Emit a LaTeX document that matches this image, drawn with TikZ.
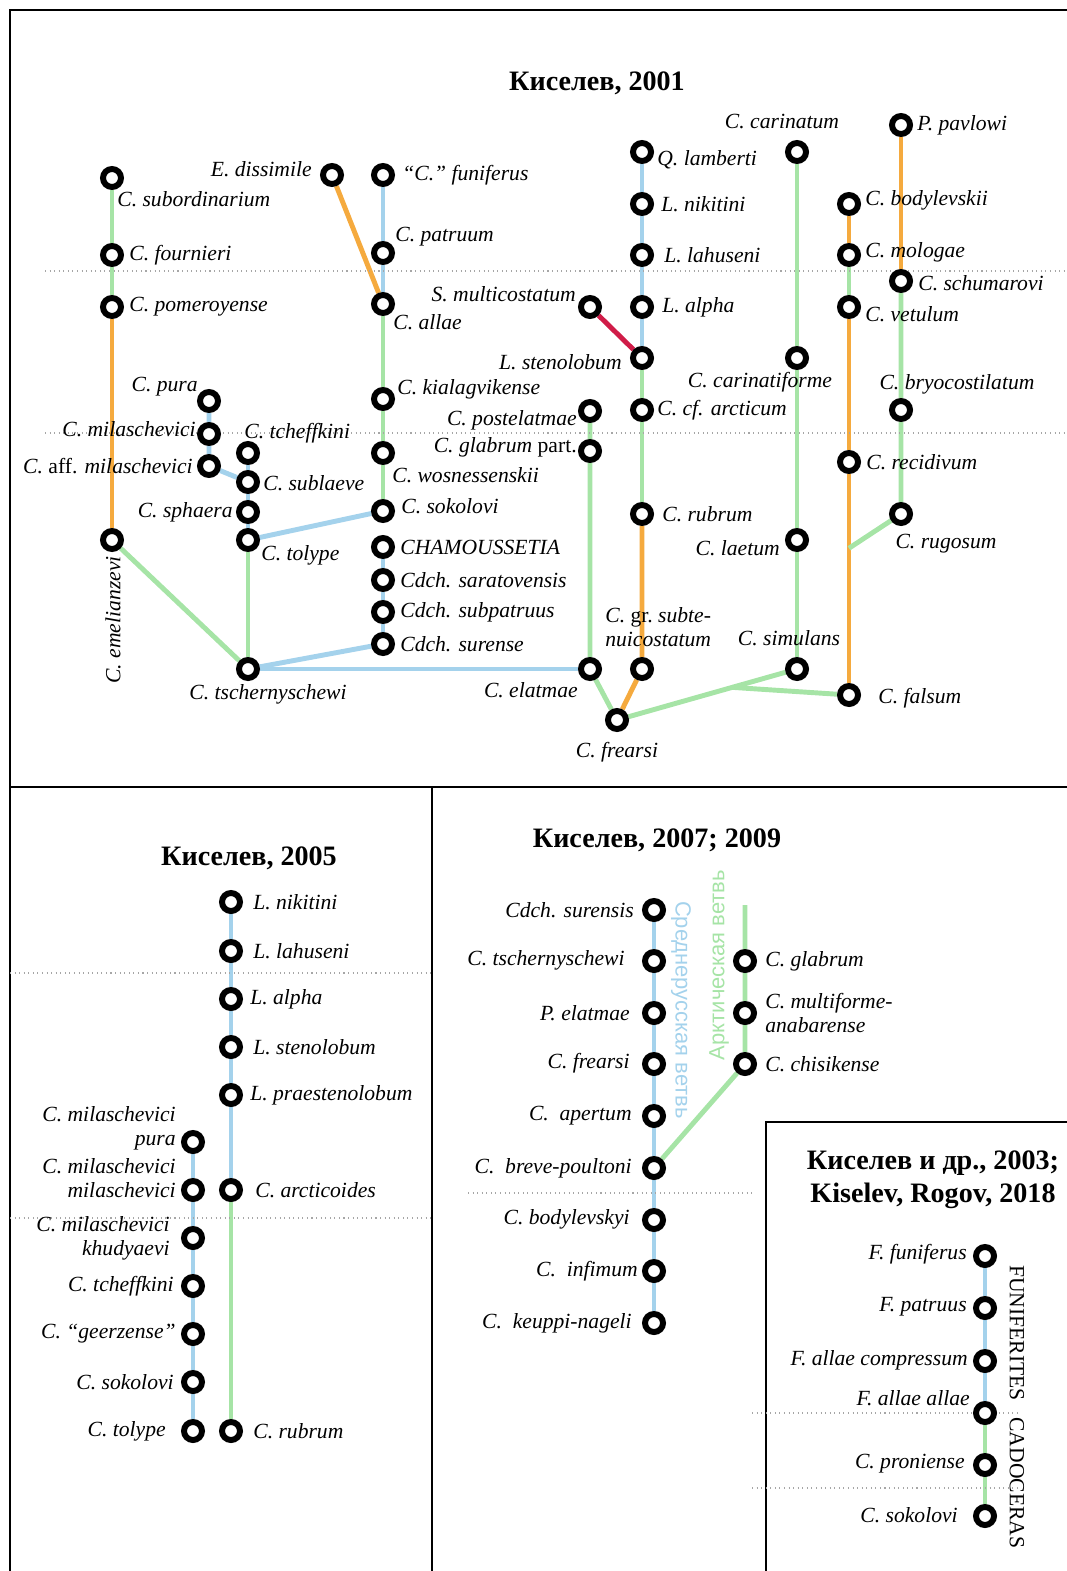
\documentclass[tikz,border=0pt]{standalone}
\usepackage{fontspec}
\setmainfont{Liberation Serif}
\newfontfamily\arialfont{Liberation Sans}
\usetikzlibrary{calc,backgrounds}

\definecolor{lgreen}{RGB}{166,228,166}
\definecolor{lblue}{RGB}{164,210,236}
\definecolor{lorange}{RGB}{245,170,62}
\definecolor{lred}{RGB}{208,28,72}

\tikzstyle{taxon}=[circle, draw=black, fill=white, line width=3.4pt, minimum size=0.36cm, inner sep=0pt]
\tikzstyle{lab}=[font=\fontsize{12.3}{13.5}\selectfont\itshape, inner sep=0pt]
\tikzstyle{ttl}=[font=\fontsize{16}{19}\selectfont\bfseries, align=center, inner sep=0pt]
\tikzstyle{gline}=[line width=2.8pt, lgreen]
\tikzstyle{bline}=[line width=2.8pt, lblue]
\tikzstyle{oline}=[line width=2.8pt, lorange]
\tikzstyle{rline}=[line width=2.8pt, lred]
\tikzstyle{level}=[dotted, gray!70, line width=0.6pt]
\tikzstyle{frame}=[line width=1.1pt]

\begin{document}
\begin{tikzpicture}[x=0.02cm, y=-0.02cm]
    \useasboundingbox (0,0) rectangle (1067,1571);

    % frames
    \draw[frame] (10,1571) -- (10,10) -- (1067,10);
    \draw[frame] (10,787) -- (1067,787);
    \draw[frame] (432,787) -- (432,1571);
    \draw[frame] (766,1571) -- (766,1122) -- (1067,1122);

    % levels
    \draw[level] (45,271) -- (1067,271);
    \draw[level] (45,433) -- (1067,433);
    \draw[level] (10,973) -- (432,973);
    \draw[level] (10,1218) -- (432,1218);
    \draw[level] (468,1193) -- (752,1193);
    \draw[level] (752,1413) -- (1020,1413);
    \draw[level] (752,1488) -- (1020,1488);

    % Kiselev 2001
    \node[ttl] (t01) at (597,83) {Киселев, 2001};

    \node[taxon] (sub) at (112,178) {};
    \node[taxon] (fou) at (112,255) {};
    \node[taxon] (pom) at (112,307) {};
    \node[taxon] (eme) at (112,540) {};
    \node[taxon] (pur) at (209,401) {};
    \node[taxon] (mil) at (209,434) {};
    \node[taxon] (aff) at (209,466) {};
    \node[taxon] (tch) at (248,453) {};
    \node[taxon] (sbl) at (248,482) {};
    \node[taxon] (sph) at (248,512) {};
    \node[taxon] (tol) at (248,540) {};
    \node[taxon] (tsc) at (248,669) {};
    \node[taxon] (dis) at (332,175) {};
    \node[taxon] (fun) at (383,175) {};
    \node[taxon] (pat) at (383,253) {};
    \node[taxon] (all) at (383,304) {};
    \node[taxon] (kia) at (383,399) {};
    \node[taxon] (wos) at (383,453) {};
    \node[taxon] (sok) at (383,511) {};
    \node[taxon] (cha) at (383,547) {};
    \node[taxon] (sar) at (383,580) {};
    \node[taxon] (spt) at (383,612) {};
    \node[taxon] (sur) at (383,644) {};
    \node[taxon] (mul) at (590,307) {};
    \node[taxon] (pos) at (590,411) {};
    \node[taxon] (gla) at (590,451) {};
    \node[taxon] (ela) at (590,669) {};
    \node[taxon] (lam) at (642,152) {};
    \node[taxon] (nik) at (642,204) {};
    \node[taxon] (lah) at (642,255) {};
    \node[taxon] (alp) at (642,307) {};
    \node[taxon] (ste) at (642,358) {};
    \node[taxon] (arc) at (642,410) {};
    \node[taxon] (rub) at (642,514) {};
    \node[taxon] (sbt) at (642,669) {};
    \node[taxon] (fre) at (617,720) {};
    \node[taxon] (car) at (797,152) {};
    \node[taxon] (cfm) at (797,358) {};
    \node[taxon] (lae) at (797,540) {};
    \node[taxon] (sim) at (797,669) {};
    \node[taxon] (bod) at (849,204) {};
    \node[taxon] (mol) at (849,255) {};
    \node[taxon] (vet) at (849,307) {};
    \node[taxon] (rec) at (849,462) {};
    \node[taxon] (fal) at (849,695) {};
    \node[taxon] (pav) at (901,125) {};
    \node[taxon] (shu) at (901,281) {};
    \node[taxon] (bry) at (901,410) {};
    \node[taxon] (rug) at (901,514) {};
    \coordinate (frk) at ($(fre)!0.64!(sim)$);
    \coordinate (rfk) at ($(rec)!0.37!(fal)$);

    \node[lab, anchor=west] (lsub) at (117,199) {C. subordinarium};
    \node[lab, anchor=west] (lfou) at (129,255) {C. fournieri};
    \node[lab, anchor=west] (lpom) at (129,307) {C. pomeroyense};
    \node[lab, rotate=90] (leme) at (113,620) {C. emelianzevi};
    \node[lab, anchor=east] (lpur) at (198,387) {C. pura};
    \node[lab, anchor=east] (lmil) at (196,429) {C. milaschevici};
    \node[lab, anchor=east] (laff) at (193,466) {C. \upshape aff. \itshape milaschevici};
    \node[lab, anchor=west] (ltch) at (244,433) {C. tcheffkini};
    \node[lab, anchor=west] (lsbl) at (263,483) {C. sublaeve};
    \node[lab, anchor=east] (lsph) at (233,512) {C. sphaera};
    \node[lab, anchor=west] (ltol) at (261,555) {C. tolype};
    \node[lab] (ltsc) at (268,694) {C. tschernyschewi};
    \node[lab, anchor=east] (ldis) at (312,169) {E. dissimile};
    \node[lab, anchor=west] (lfun) at (402,175) {“C.” funiferus};
    \node[lab, anchor=west] (lpat) at (395,237) {C. patruum};
    \node[lab, anchor=west] (lall) at (393,322) {C. allae};
    \node[lab, anchor=west] (lkia) at (397,389) {C. kialagvikense};
    \node[lab, anchor=west] (lwos) at (392,475) {C. wosnessenskii};
    \node[lab, anchor=west] (lsok) at (401,506) {C. sokolovi};
    \node[lab, anchor=west] (lcha) at (400,547) {CHAMOUSSETIA};
    \node[lab, anchor=west] (lsar) at (400,580) {Cdch. saratovensis};
    \node[lab, anchor=west] (lspt) at (400,612) {Cdch. subpatruus};
    \node[lab, anchor=west] (lsur) at (400,644) {Cdch. surense};
    \node[lab, anchor=east] (lmul) at (576,294) {S. multicostatum};
    \node[lab, anchor=east] (lpos) at (577,420) {C. postelatmae};
    \node[lab, anchor=east] (lgla) at (577,447) {C. glabrum \upshape part.};
    \node[lab, anchor=east] (lela) at (578,690) {C. elatmae};
    \node[lab, anchor=west] (llam) at (657,160) {Q. lamberti};
    \node[lab, anchor=west] (lnik) at (661,204) {L. nikitini};
    \node[lab, anchor=west] (llah) at (664,255) {L. lahuseni};
    \node[lab, anchor=west] (lalp) at (662,307) {L. alpha};
    \node[lab, anchor=east] (lste) at (622,362) {L. stenolobum};
    \node[lab, anchor=west] (larc) at (657,410) {C. cf. arcticum};
    \node[lab, anchor=west] (lrub) at (662,514) {C. rubrum};
    \node[lab, anchor=west, align=left] (lsbt) at (605,627) {C. \upshape gr.\ \itshape subte-\\nuicostatum};
    \node[lab] (lfre) at (617,752) {C. frearsi};
    \node[lab] (lcar) at (782,122) {C. carinatum};
    \node[lab] (lcfm) at (760,382) {C. carinatiforme};
    \node[lab, anchor=east] (llae) at (780,548) {C. laetum};
    \node[lab] (lsim) at (789,638) {C. simulans};
    \node[lab, anchor=west] (lbod) at (865,200) {C. bodylevskii};
    \node[lab, anchor=west] (lmol) at (865,252) {C. mologae};
    \node[lab, anchor=west] (lvet) at (865,314) {C. vetulum};
    \node[lab, anchor=west] (lrec) at (866,462) {C. recidivum};
    \node[lab, anchor=west] (lfal) at (878,698) {C. falsum};
    \node[lab, anchor=west] (lpav) at (917,125) {P. pavlowi};
    \node[lab, anchor=west] (lshu) at (918,283) {C. schumarovi};
    \node[lab] (lbry) at (957,384) {C. bryocostilatum};
    \node[lab] (lrug) at (946,544) {C. rugosum};

    % Kiselev 2005
    \node[ttl] (t05) at (249,858) {Киселев, 2005};

    \node[taxon] (a1) at (231,902) {};
    \node[taxon] (a2) at (231,951) {};
    \node[taxon] (a3) at (231,999) {};
    \node[taxon] (a4) at (231,1047) {};
    \node[taxon] (a5) at (231,1095) {};
    \node[taxon] (a6) at (231,1190) {};
    \node[taxon] (a7) at (231,1431) {};
    \node[taxon] (b1) at (193,1142) {};
    \node[taxon] (b2) at (193,1190) {};
    \node[taxon] (b3) at (193,1238) {};
    \node[taxon] (b4) at (193,1286) {};
    \node[taxon] (b5) at (193,1334) {};
    \node[taxon] (b6) at (193,1382) {};
    \node[taxon] (b7) at (193,1431) {};

    \node[lab, anchor=west] (la1) at (253,902) {L. nikitini};
    \node[lab, anchor=west] (la2) at (253,951) {L. lahuseni};
    \node[lab, anchor=west] (la3) at (250,999) {L. alpha};
    \node[lab, anchor=west] (la4) at (253,1047) {L. stenolobum};
    \node[lab, anchor=west] (la5) at (250,1095) {L. praestenolobum};
    \node[lab, anchor=west] (la6) at (255,1190) {C. arcticoides};
    \node[lab, anchor=west] (la7) at (253,1431) {C. rubrum};
    \node[lab, anchor=east, align=right] (lb1) at (176,1128) {C. milaschevici\\pura};
    \node[lab, anchor=east, align=right] (lb2) at (176,1178) {C. milaschevici\\milaschevici};
    \node[lab, anchor=east, align=right] (lb3) at (170,1238) {C. milaschevici\\khudyaevi};
    \node[lab, anchor=east] (lb4) at (174,1286) {C. tcheffkini};
    \node[lab, anchor=east] (lb5) at (176,1334) {C. “geerzense”};
    \node[lab, anchor=east] (lb6) at (174,1382) {C. sokolovi};
    \node[lab, anchor=east] (lb7) at (166,1431) {C. tolype};

    % Kiselev 2007; 2009
    \node[ttl] (t07) at (657,840) {Киселев, 2007; 2009};

    \node[taxon] (c1) at (654,910) {};
    \node[taxon] (c2) at (654,961) {};
    \node[taxon] (c3) at (654,1013) {};
    \node[taxon] (c4) at (654,1064) {};
    \node[taxon] (c5) at (654,1116) {};
    \node[taxon] (c6) at (654,1168) {};
    \node[taxon] (c7) at (654,1220) {};
    \node[taxon] (c8) at (654,1271) {};
    \node[taxon] (c9) at (654,1323) {};
    \coordinate (d0) at (745,905);
    \node[taxon] (d1) at (745,961) {};
    \node[taxon] (d2) at (745,1013) {};
    \node[taxon] (d3) at (745,1064) {};

    \node[lab, anchor=east] (lc1) at (634,910) {Cdch. surensis};
    \node[lab, anchor=east] (lc2) at (625,960) {C. tschernyschewi};
    \node[lab, anchor=east] (lc3) at (630,1013) {P. elatmae};
    \node[lab, anchor=east] (lc4) at (630,1063) {C. frearsi};
    \node[lab, anchor=east] (lc5) at (632,1116) {C.\ \ apertum};
    \node[lab, anchor=east] (lc6) at (632,1168) {C.\ \ breve-poultoni};
    \node[lab, anchor=east] (lc7) at (630,1219) {C. bodylevskyi};
    \node[lab, anchor=east] (lc8) at (638,1271) {C.\ \ infimum};
    \node[lab, anchor=east] (lc9) at (632,1323) {C.\ \ keuppi-nageli};
    \node[lab, anchor=west] (ld1) at (765,961) {C. glabrum};
    \node[lab, anchor=west, align=left] (ld2) at (765,1013) {C. multiforme-\\anabarense};
    \node[lab, anchor=west] (ld3) at (765,1064) {C. chisikense};
    \node[font=\arialfont\fontsize{12.5}{14}\selectfont, text=lblue, rotate=-90, inner sep=0pt] (lcen) at (681,1010) {Среднерусская ветвь};
    \node[font=\arialfont\fontsize{12.5}{14}\selectfont, text=lgreen, rotate=90, inner sep=0pt] (lart) at (719,965) {Арктическая ветвь};

    % Kiselev et al. 2003; Kiselev, Rogov 2018
    \node[ttl] (t03) at (933,1180) {Киселев и др., 2003;\\Kiselev, Rogov, 2018};

    \node[taxon] (e1) at (985,1256) {};
    \node[taxon] (e2) at (985,1308) {};
    \node[taxon] (e3) at (985,1361) {};
    \node[taxon] (e4) at (985,1413) {};
    \node[taxon] (e5) at (985,1465) {};
    \node[taxon] (e6) at (985,1516) {};

    \node[lab, anchor=east] (le1) at (967,1254) {F. funiferus};
    \node[lab, anchor=east] (le2) at (967,1307) {F. patruus};
    \node[lab, anchor=east] (le3) at (968,1360) {F. allae compressum};
    \node[lab, anchor=east] (le4) at (970,1398) {F. allae allae};
    \node[lab, anchor=east] (le5) at (965,1464) {C. proniense};
    \node[lab, anchor=east] (le6) at (958,1515) {C. sokolovi};
    \node[lab, font=\fontsize{12.3}{13.5}\selectfont\upshape, rotate=-90] (lfnf) at (1017,1333) {FUNIFERITES};
    \node[lab, font=\fontsize{12.3}{13.5}\selectfont\upshape, rotate=-90] (lcad) at (1017,1483) {CADOCERAS};

    % lineages
    \begin{scope}[on background layer]
      \draw[gline] (sub) -- (fou) -- (pom);
      \draw[oline] (pom) -- (eme);
      \draw[gline] (eme) -- (tsc);
      \draw[bline] (pur) -- (mil) -- (aff) -- (sbl);
      \draw[bline] (tch) -- (sbl) -- (sph) -- (tol);
      \draw[gline] (tol) -- (tsc);
      \draw[bline] (tol) -- (sok);
      \draw[bline] (fun) -- (pat) -- (all);
      \draw[oline] (dis) -- (all);
      \draw[gline] (all) -- (kia) -- (wos) -- (sok);
      \draw[bline] (cha) -- (sar) -- (spt) -- (sur);
      \draw[bline] (sur) -- (tsc);
      \draw[bline] (tsc) -- (ela);
      \draw[gline] (pos) -- (gla) -- (ela) -- (fre);
      \draw[rline] (mul) -- (ste);
      \draw[bline] (lam) -- (nik) -- (lah) -- (alp) -- (ste);
      \draw[gline] (ste) -- (arc) -- (rub);
      \draw[oline] (rub) -- (sbt) -- (fre);
      \draw[gline] (fre) -- (sim);
      \draw[gline] (frk) -- (fal);
      \draw[gline] (car) -- (cfm) -- (lae) -- (sim);
      \draw[oline] (bod) -- (mol);
      \draw[gline] (mol) -- (vet);
      \draw[oline] (vet) -- (rec) -- (fal);
      \draw[oline] (pav) -- (shu);
      \draw[gline] (shu) -- (bry) -- (rug) -- (rfk);

      \draw[bline] (a1) -- (a2) -- (a3) -- (a4) -- (a5) -- (a6);
      \draw[gline] (a6) -- (a7);
      \draw[bline] (b1) -- (b2) -- (b3) -- (b4) -- (b5) -- (b6) -- (b7);

      \draw[bline] (c1) -- (c2) -- (c3) -- (c4) -- (c5) -- (c6) -- (c7) -- (c8) -- (c9);
      \draw[gline] (d0) -- (d1) -- (d2) -- (d3) -- (c6);

      \draw[bline] (e1) -- (e2) -- (e3) -- (e4);
      \draw[gline] (e4) -- (e5) -- (e6);
    \end{scope}
\end{tikzpicture}
\end{document}
